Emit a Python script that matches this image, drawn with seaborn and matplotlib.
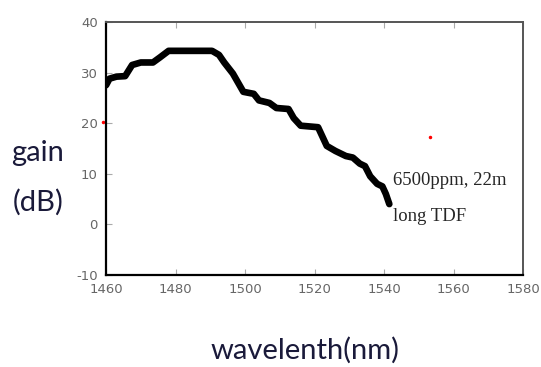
import pandas as pd
import matplotlib
matplotlib.use("Agg")
import matplotlib.pyplot as plt
import seaborn as sns

# gain spectrum (6500ppm, 22m long TDF)
wavelength = [1460.0, 1461.0, 1463.0, 1465.5, 1467.5, 1470.0, 1473.5, 1475.5,
              1478.0, 1490.5, 1492.5, 1494.0, 1496.5, 1498.0, 1499.5, 1502.5,
              1504.0, 1507.0, 1509.0, 1512.5, 1514.0, 1516.0, 1521.0, 1523.5,
              1526.0, 1529.0, 1531.0, 1533.0, 1534.5, 1536.0, 1538.0, 1539.5,
              1540.5, 1541.5]
gain = [27.5, 28.8, 29.2, 29.3, 31.5, 32.0, 32.0, 33.0,
        34.3, 34.3, 33.5, 32.0, 29.8, 28.0, 26.2, 25.8,
        24.5, 24.0, 23.0, 22.8, 21.0, 19.5, 19.2, 15.5,
        14.5, 13.5, 13.2, 12.0, 11.5, 9.5, 8.0, 7.5,
        6.0, 4.0]
x_ticks = [1460, 1480, 1500, 1520, 1540, 1560, 1580]
y_ticks = [-10, 0, 10, 20, 30, 40]

df = pd.DataFrame({"wavelength": wavelength, "gain": gain})

sns.set_theme(style="white")
plt.rcParams["axes.unicode_minus"] = False
fig = plt.figure(figsize=(5.41, 3.67), dpi=100)
ax = fig.add_axes([0.196, 0.251, 0.771, 0.689])

sns.lineplot(data=df, x="wavelength", y="gain", sort=False, color="black",
             linewidth=4.8, ax=ax)

# small red specks in the scanned figure
ax.plot([1553.2], [17.3], "o", color="red", markersize=1.5)
ax.plot([1459.2], [20.2], "o", color="red", markersize=1.5, clip_on=False)

ax.text(1542.5, 8.6, "6500ppm, 22m", family="Liberation Serif", fontsize=13.5,
        va="center", ha="left")
ax.text(1542.5, 1.6, "long TDF", family="Liberation Serif", fontsize=13.5,
        va="center", ha="left")

ax.set_xlim(1460, 1580)
ax.set_ylim(-10, 40)
ax.set_xticks(x_ticks)
ax.set_yticks(y_ticks)
ax.set_xlabel("")
ax.set_ylabel("")
ax.tick_params(direction="in", length=4, width=0.8, color="#aaaaaa",
               top=True, bottom=True, left=True, labelsize=9.5,
               labelcolor="#666666", pad=6)

for side in ["left", "bottom"]:
    ax.spines[side].set_color("black")
    ax.spines[side].set_linewidth(1.6)
for side in ["top", "right"]:
    ax.spines[side].set_color("#555555")
    ax.spines[side].set_linewidth(1.4)

fig.text(0.07, 1 - 153 / 367, "gain", family="Lato", fontsize=21,
         color="#1a1a3a", ha="center", va="center")
fig.text(0.07, 1 - 202 / 367, "(dB)", family="Lato", fontsize=21,
         color="#1a1a3a", ha="center", va="center")
fig.text(305 / 541, 1 - 350 / 367, "wavelenth(nm)", family="Lato",
         fontsize=21, color="#1a1a3a", ha="center", va="center")

fig.savefig("out.png", dpi=100)
